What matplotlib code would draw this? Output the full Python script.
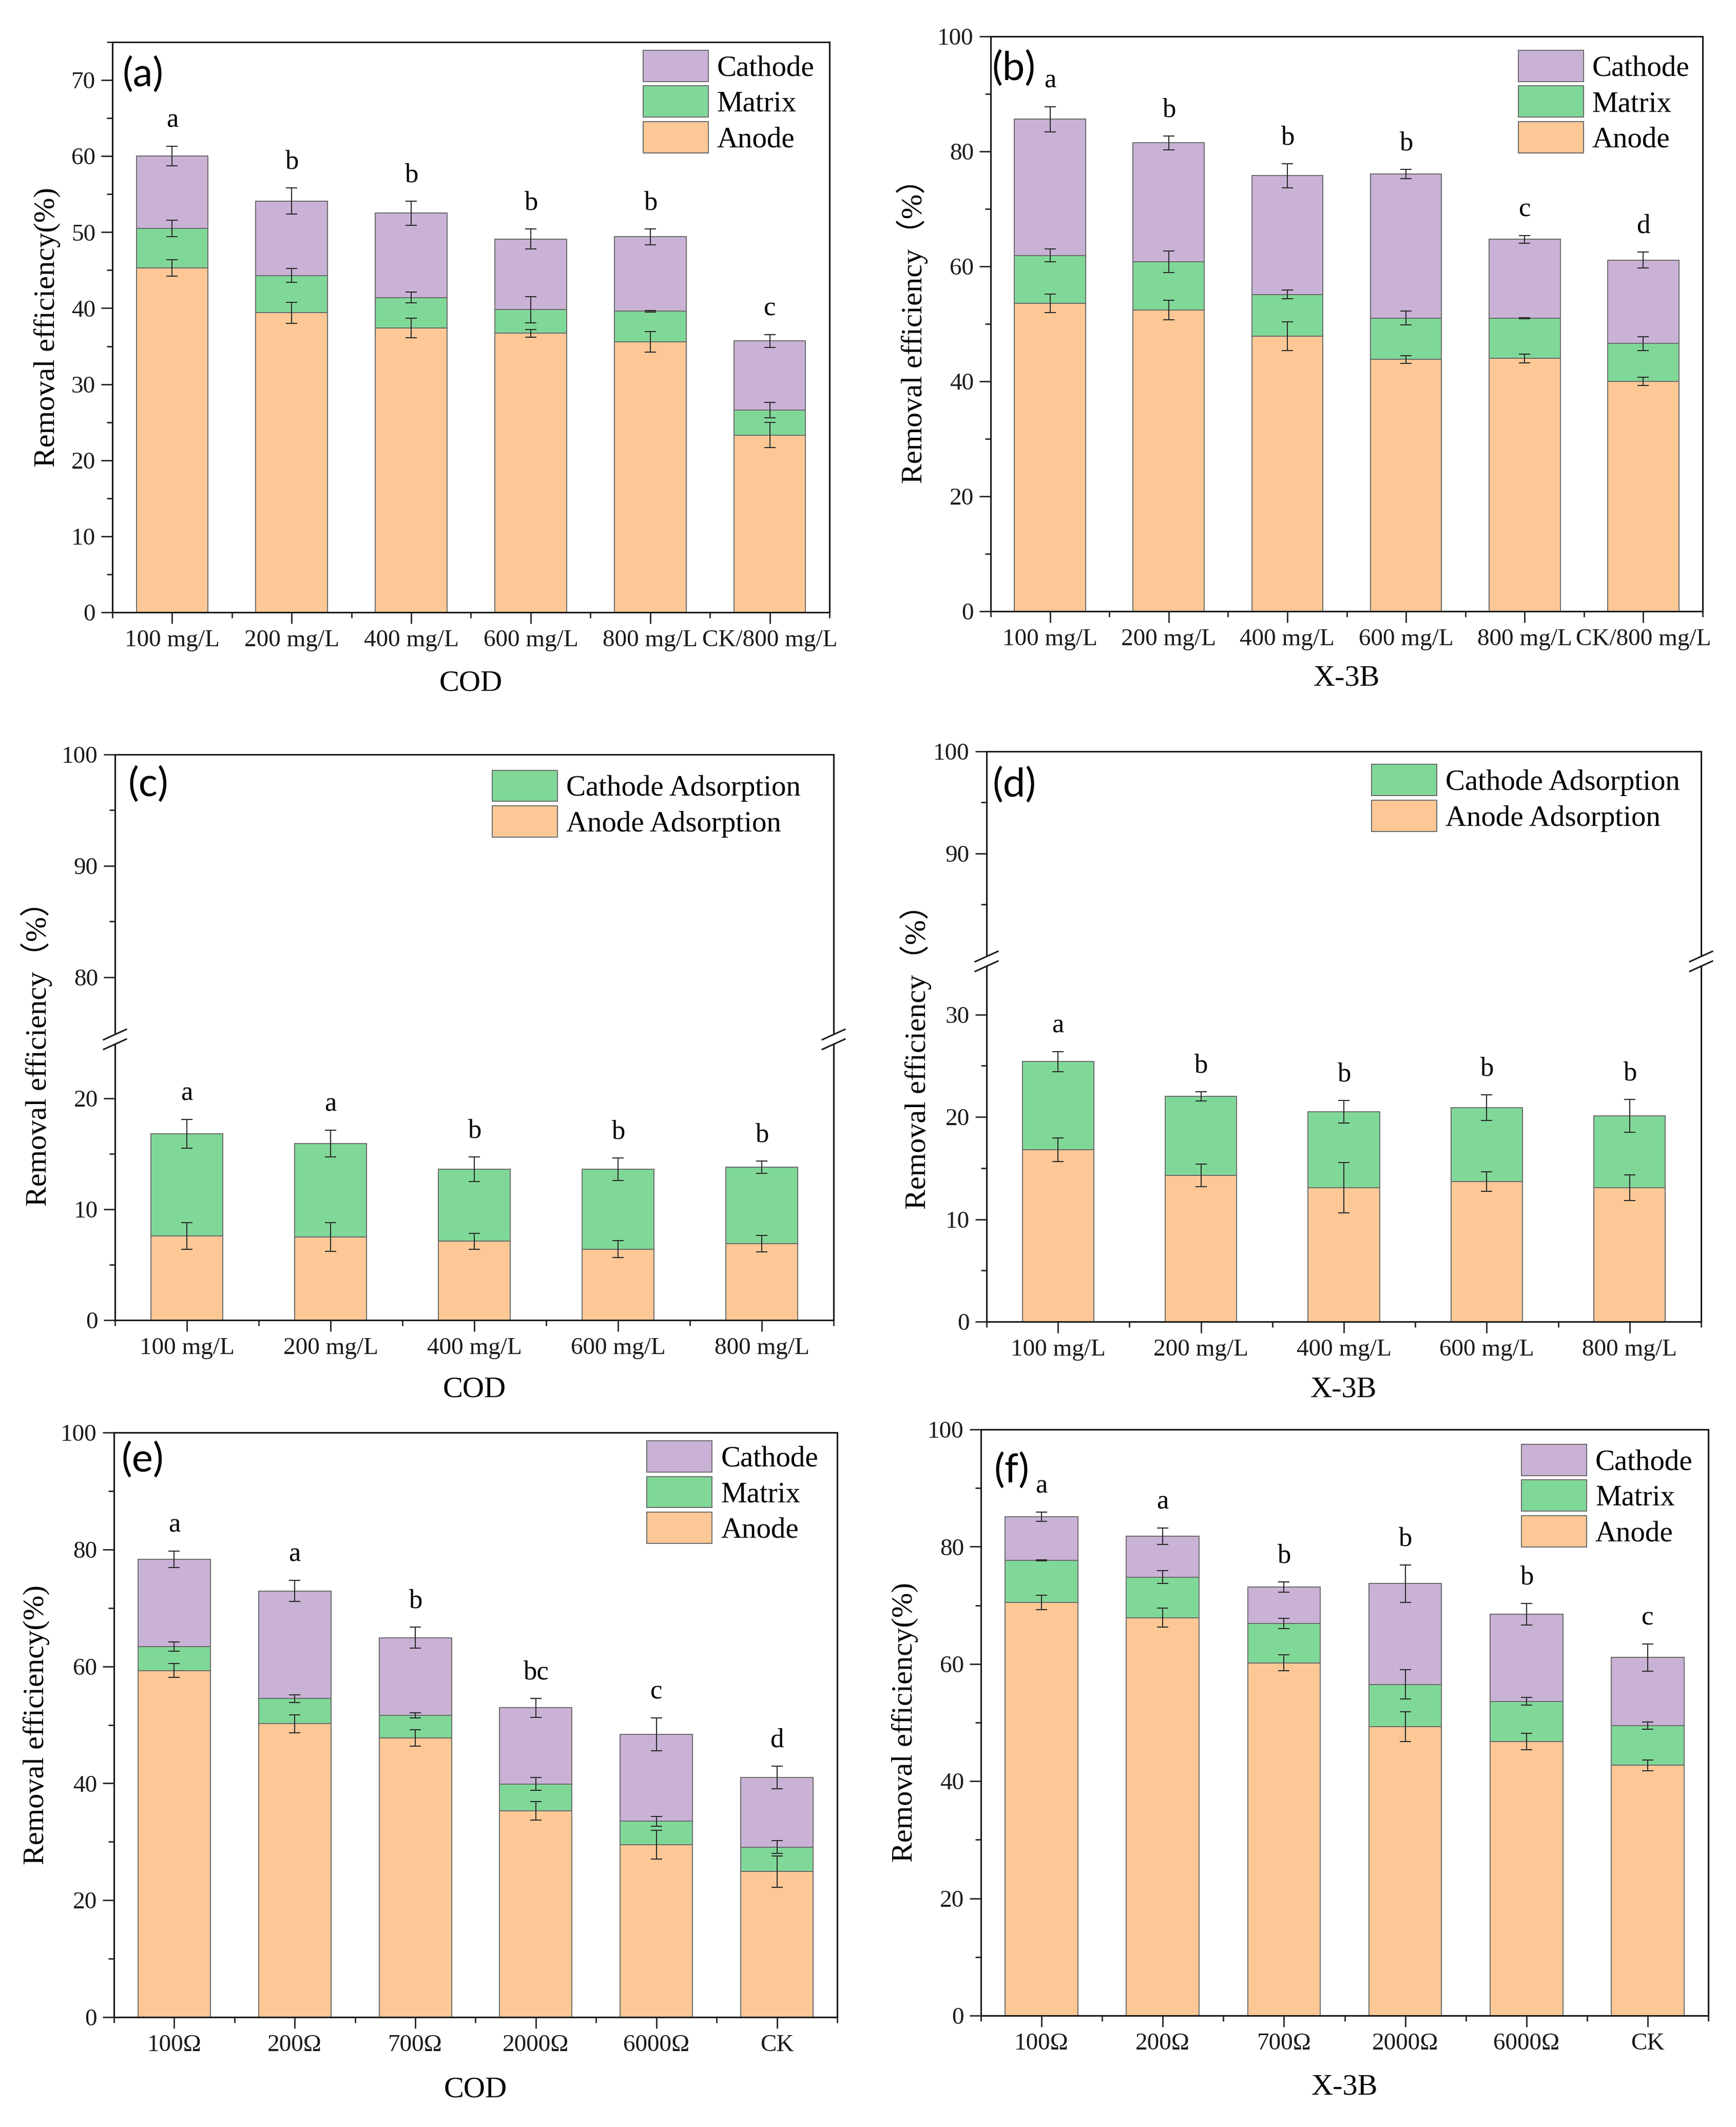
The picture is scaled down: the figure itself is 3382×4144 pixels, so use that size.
import numpy as np
import matplotlib
matplotlib.use("Agg")
import matplotlib.pyplot as plt
from matplotlib.patches import Patch, Polygon
from matplotlib.lines import Line2D
from matplotlib.ticker import MultipleLocator, FixedLocator

SERIF = ['Liberation Serif', 'Noto Sans CJK SC', 'DejaVu Sans']
plt.rcParams['font.family'] = SERIF

# ---------------- data ----------------
conc_labels = ['100 mg/L', '200 mg/L', '400 mg/L', '600 mg/L', '800 mg/L', 'CK/800 mg/L']
ads_labels = ['100 mg/L', '200 mg/L', '400 mg/L', '600 mg/L', '800 mg/L']
res_labels = ['100Ω', '200Ω', '700Ω', '2000Ω', '6000Ω', 'CK']

# (a) COD
a_anode = [45.3, 39.4, 37.4, 36.7, 35.6, 23.3]
a_matrix = [5.2, 4.9, 4.0, 3.1, 4.0, 3.3]
a_cathode = [9.5, 9.8, 11.1, 9.3, 9.8, 9.1]
a_anode_err = [1.1, 1.4, 1.3, 0.5, 1.35, 1.65]
a_matrix_err = [1.1, 0.9, 0.7, 1.7, 0.1, 1.0]
a_cathode_err = [1.3, 1.7, 1.6, 1.3, 1.05, 0.85]
a_sig = ['a', 'b', 'b', 'b', 'b', 'c']

# (b) X-3B
b_anode = [53.6, 52.4, 47.9, 43.8, 44.0, 40.0]
b_matrix = [8.3, 8.4, 7.2, 7.2, 7.0, 6.6]
b_cathode = [23.7, 20.7, 20.7, 25.1, 13.7, 14.5]
b_anode_err = [1.6, 1.7, 2.5, 0.7, 0.75, 0.7]
b_matrix_err = [1.1, 1.9, 0.75, 1.2, 0.1, 1.2]
b_cathode_err = [2.2, 1.2, 2.1, 0.8, 0.7, 1.4]
b_sig = ['a', 'b', 'b', 'b', 'c', 'd']

# (c) COD adsorption
c_anode = [7.6, 7.5, 7.1, 6.4, 6.9]
c_cathode = [9.2, 8.4, 6.5, 7.2, 6.9]
c_anode_err = [1.2, 1.3, 0.7, 0.75, 0.75]
c_cathode_err = [1.3, 1.2, 1.1, 1.0, 0.55]
c_sig = ['a', 'a', 'b', 'b', 'b']

# (d) X-3B adsorption
d_anode = [16.8, 14.3, 13.1, 13.7, 13.1]
d_cathode = [8.6, 7.7, 7.4, 7.2, 7.0]
d_anode_err = [1.15, 1.1, 2.45, 0.95, 1.25]
d_cathode_err = [1.0, 0.45, 1.1, 1.25, 1.6]
d_sig = ['a', 'b', 'b', 'b', 'b']

# (e) COD vs resistance
e_anode = [59.3, 50.2, 47.8, 35.3, 29.5, 24.9]
e_matrix = [4.1, 4.3, 3.8, 4.6, 4.0, 4.2]
e_cathode = [14.9, 18.4, 13.3, 13.0, 14.9, 11.9]
e_anode_err = [1.2, 1.55, 1.4, 1.6, 2.5, 2.7]
e_matrix_err = [0.8, 0.65, 0.45, 1.1, 0.8, 1.1]
e_cathode_err = [1.4, 1.8, 1.8, 1.6, 2.8, 1.9]
e_sig = ['a', 'a', 'b', 'bc', 'c', 'd']

# (f) X-3B vs resistance
f_anode = [70.5, 67.9, 60.2, 49.3, 46.8, 42.7]
f_matrix = [7.2, 6.9, 6.7, 7.2, 6.8, 6.8]
f_cathode = [7.4, 7.0, 6.2, 17.2, 14.9, 11.6]
f_anode_err = [1.25, 1.6, 1.35, 2.5, 1.4, 0.95]
f_matrix_err = [0.1, 1.1, 0.9, 2.5, 0.65, 0.6]
f_cathode_err = [0.8, 1.4, 0.9, 3.2, 1.85, 2.3]
f_sig = ['a', 'a', 'b', 'b', 'b', 'c']

# ---------------- style ----------------
C_ANODE = '#FEC896'
C_MATRIX = '#80D898'
C_CATHODE = '#C9B2D6'
EDGE = '#6a6a6a'
ERR = '#2a2a2a'
AX = '#1a1a1a'
TICK_FS = 34
LAB_FS = 42
LEG_FS = 41
SIG_FS = 38
PANEL_FONT = ['Lato', 'DejaVu Sans']

W, H = 3382, 4144
DPI = 100
fig = plt.figure(figsize=(W / DPI, H / DPI), dpi=DPI)


def rect(l, r, t, b):
    return [l / W, 1 - b / H, (r - l) / W, (b - t) / H]


def style_axis(ax, n, labels, show_x=True):
    ax.set_xlim(-0.5, n - 0.5)
    for sp in ax.spines.values():
        sp.set_linewidth(2.2)
        sp.set_color(AX)
    ax.tick_params(axis='both', which='major', direction='out', length=15.8, width=1.9,
                   labelsize=TICK_FS, pad=8, top=False, right=False, colors=AX)
    ax.tick_params(axis='both', which='minor', direction='out', length=8, width=1.9,
                   top=False, right=False, colors=AX)
    if show_x:
        ax.set_xticks(np.arange(n))
        ax.set_xticklabels(labels, family=SERIF)
        ax.set_xticks(np.arange(-0.5, n, 1.0), minor=True)
    else:
        ax.set_xticks([])
        ax.set_xticks([], minor=True)
        ax.tick_params(axis='x', which='both', bottom=False, labelbottom=False)


def draw_stack(ax, segs, errs, colors, sig, width):
    n = len(segs[0])
    x = np.arange(n)
    bottom = np.zeros(n)
    for vals, err, col in zip(segs, errs, colors):
        vals = np.asarray(vals)
        ax.bar(x, vals, width, bottom=bottom, color=col, edgecolor=EDGE, linewidth=1.4, zorder=2)
        top = bottom + vals
        ax.errorbar(x, top, yerr=err, fmt='none', ecolor=ERR, elinewidth=1.5,
                    capsize=8, capthick=1.5, zorder=3)
        bottom = top
    for xi, t, e, s in zip(x, bottom, errs[-1], sig):
        ax.annotate(s, (xi, t + e), xytext=(0, 27), textcoords='offset points',
                    ha='center', va='baseline', fontsize=SIG_FS, color='black', family=SERIF)


def add_legend(ax, names, colors, anchor):
    handles = [Patch(facecolor=c, edgecolor=EDGE, linewidth=1.4, label=nm)
               for nm, c in zip(names, colors)]
    ax.legend(handles=handles, loc='upper left', bbox_to_anchor=anchor, frameon=False,
              prop={'family': SERIF, 'size': LEG_FS},
              handlelength=2.23, handleheight=1.27, handletextpad=0.3,
              labelspacing=0.14, borderpad=0, borderaxespad=0)


def panel_label(ax, txt, x, y):
    ax.text(x, y, txt, transform=ax.transAxes, ha='left', va='center',
            fontsize=56, family=PANEL_FONT, color='black')


def set_labels(ax, ylab, ycoords, xlab, xcoords):
    ax.set_ylabel(ylab, fontsize=LAB_FS, family=SERIF)
    ax.yaxis.set_label_coords(*ycoords)
    ax.set_xlabel(xlab, fontsize=LAB_FS, family=SERIF)
    ax.xaxis.set_label_coords(*xcoords)


def break_marks(xc, yc):
    def fp(x, y):
        return x / W, 1 - y / H
    d = 9.5
    pts = [fp(xc - 7, yc - d + 3.2), fp(xc + 7, yc - d - 3.2),
           fp(xc + 7, yc + d - 3.2), fp(xc - 7, yc + d + 3.2)]
    fig.add_artist(Polygon(pts, closed=True, facecolor='white', edgecolor='none',
                           transform=fig.transFigure, zorder=5))
    for s in (-d, d):
        x0, y0 = fp(xc - 22, yc + 10 + s)
        x1, y1 = fp(xc + 22, yc - 10 + s)
        fig.add_artist(Line2D([x0, x1], [y0, y1], color=AX, linewidth=2.2,
                              transform=fig.transFigure, zorder=6))


stack_colors = [C_ANODE, C_MATRIX, C_CATHODE]
leg3_names = ['Cathode', 'Matrix', 'Anode']
leg3_colors = [C_CATHODE, C_MATRIX, C_ANODE]
leg2_names = ['Cathode Adsorption', 'Anode Adsorption']
leg2_colors = [C_MATRIX, C_ANODE]

# ---------------- (a) ----------------
ax = fig.add_axes(rect(219, 1616, 82, 1193))
draw_stack(ax, [a_anode, a_matrix, a_cathode], [a_anode_err, a_matrix_err, a_cathode_err],
           stack_colors, a_sig, 0.6)
style_axis(ax, 6, conc_labels)
ax.set_ylim(0, 75)
ax.yaxis.set_major_locator(MultipleLocator(10))
ax.yaxis.set_minor_locator(MultipleLocator(5))
set_labels(ax, 'Removal efficiency(%)', (-0.072, 0.5), 'COD', (0.5, -0.101))
add_legend(ax, leg3_names, leg3_colors, (0.740, 0.986))
panel_label(ax, '(a)', 0.014, 0.943)

# ---------------- (b) ----------------
ax = fig.add_axes(rect(1930, 3317, 71, 1191))
draw_stack(ax, [b_anode, b_matrix, b_cathode], [b_anode_err, b_matrix_err, b_cathode_err],
           stack_colors, b_sig, 0.6)
style_axis(ax, 6, conc_labels)
ax.set_ylim(0, 100)
ax.yaxis.set_major_locator(MultipleLocator(20))
ax.yaxis.set_minor_locator(MultipleLocator(10))
set_labels(ax, 'Removal efficiency（%）', (-0.088, 0.5), 'X-3B', (0.5, -0.093))
add_legend(ax, leg3_names, leg3_colors, (0.741, 0.976))
panel_label(ax, '(b)', 0.002, 0.944)

# ---------------- (c) broken axis ----------------
axl = fig.add_axes(rect(224, 1624, 2025, 2572))
axu = fig.add_axes(rect(224, 1624, 1470, 2025))
draw_stack(axl, [c_anode, c_cathode], [c_anode_err, c_cathode_err],
           [C_ANODE, C_MATRIX], c_sig, 0.5)
style_axis(axl, 5, ads_labels)
style_axis(axu, 5, ads_labels, show_x=False)
axl.set_ylim(0, 25.3)
axu.set_ylim(74.4, 100)
axl.yaxis.set_major_locator(FixedLocator([0, 10, 20]))
axl.yaxis.set_minor_locator(FixedLocator([5, 15]))
axu.yaxis.set_major_locator(FixedLocator([80, 90, 100]))
axu.yaxis.set_minor_locator(FixedLocator([85, 95]))
axl.spines['top'].set_visible(False)
axu.spines['bottom'].set_visible(False)
set_labels(axl, 'Removal efficiency（%）', (-0.087, 0.976), 'COD', (0.5, -0.2))
add_legend(axu, leg2_names, leg2_colors, (0.525, 0.945))
panel_label(axu, '(c)', 0.018, 0.894)
break_marks(224, 2025)
break_marks(1624, 2025)

# ---------------- (d) broken axis ----------------
axl = fig.add_axes(rect(1922, 3314, 1873, 2575))
axu = fig.add_axes(rect(1922, 3314, 1464, 1873))
draw_stack(axl, [d_anode, d_cathode], [d_anode_err, d_cathode_err],
           [C_ANODE, C_MATRIX], d_sig, 0.5)
style_axis(axl, 5, ads_labels)
style_axis(axu, 5, ads_labels, show_x=False)
axl.set_ylim(0, 35.2)
axu.set_ylim(79.4, 100)
axl.yaxis.set_major_locator(FixedLocator([0, 10, 20, 30]))
axl.yaxis.set_minor_locator(FixedLocator([5, 15, 25]))
axu.yaxis.set_major_locator(FixedLocator([90, 100]))
axu.yaxis.set_minor_locator(FixedLocator([85, 95]))
axl.spines['top'].set_visible(False)
axu.spines['bottom'].set_visible(False)
set_labels(axl, 'Removal efficiency（%）', (-0.077, 0.755), 'X-3B', (0.5, -0.152))
add_legend(axu, leg2_names, leg2_colors, (0.539, 0.938))
panel_label(axu, '(d)', 0.008, 0.84)
break_marks(1922, 1873)
break_marks(3314, 1873)

# ---------------- (e) ----------------
ax = fig.add_axes(rect(222, 1631, 2791, 3930))
draw_stack(ax, [e_anode, e_matrix, e_cathode], [e_anode_err, e_matrix_err, e_cathode_err],
           stack_colors, e_sig, 0.6)
style_axis(ax, 6, res_labels)
ax.set_ylim(0, 100)
ax.yaxis.set_major_locator(MultipleLocator(20))
ax.yaxis.set_minor_locator(MultipleLocator(10))
set_labels(ax, 'Removal efficiency(%)', (-0.089, 0.5), 'COD', (0.5, -0.101))
add_legend(ax, leg3_names, leg3_colors, (0.737, 0.986))
panel_label(ax, '(e)', 0.01, 0.953)

# ---------------- (f) ----------------
ax = fig.add_axes(rect(1911, 3328, 2785, 3927))
draw_stack(ax, [f_anode, f_matrix, f_cathode], [f_anode_err, f_matrix_err, f_cathode_err],
           stack_colors, f_sig, 0.6)
style_axis(ax, 6, res_labels)
ax.set_ylim(0, 100)
ax.yaxis.set_major_locator(MultipleLocator(20))
ax.yaxis.set_minor_locator(MultipleLocator(10))
set_labels(ax, 'Removal efficiency(%)', (-0.086, 0.5), 'X-3B', (0.5, -0.099))
add_legend(ax, leg3_names, leg3_colors, (0.743, 0.975))
panel_label(ax, '(f)', 0.018, 0.929)

fig.savefig('out.png', dpi=DPI, facecolor='white')
